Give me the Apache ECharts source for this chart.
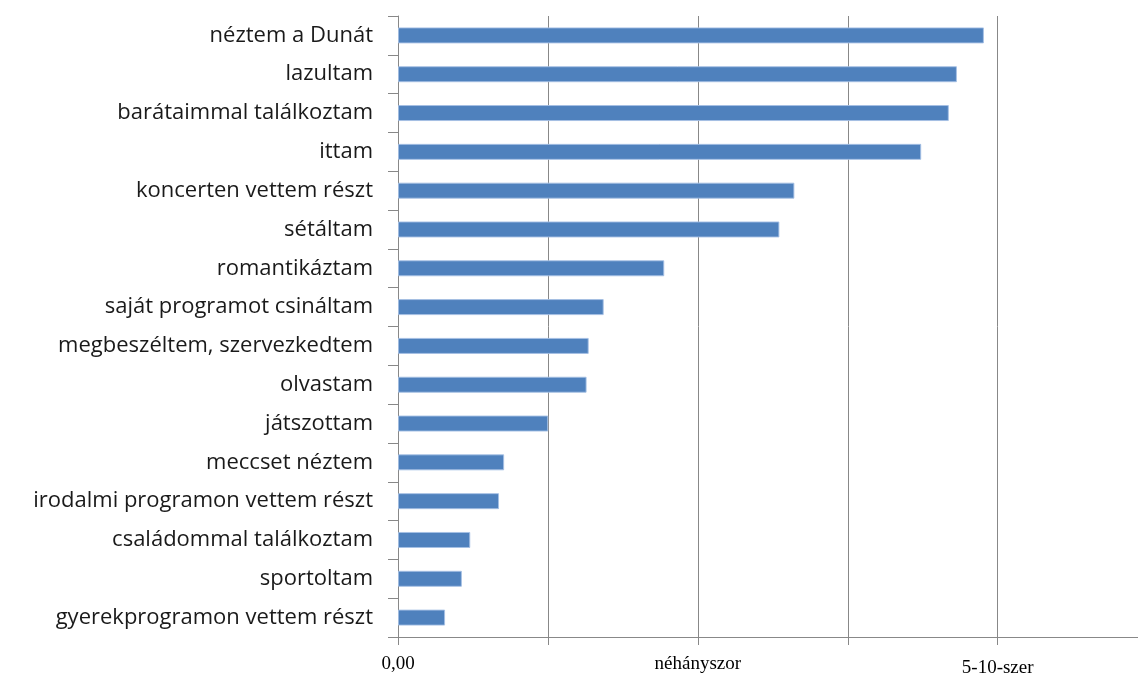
<!DOCTYPE html>
<html>
<head>
<meta charset="utf-8">
<script src="https://cdn.jsdelivr.net/npm/echarts@6/dist/echarts.min.js"></script>
<style>
  html, body { margin: 0; padding: 0; background: #fff; }
  #chart { width: 1138px; height: 677px; }
</style>
</head>
<body>
<div id="chart"></div>
<script>
// Activities, listed top to bottom
const categories = [
  'néztem a Dunát',
  'lazultam',
  'barátaimmal találkoztam',
  'ittam',
  'koncerten vettem részt',
  'sétáltam',
  'romantikáztam',
  'saját programot csináltam',
  'megbeszéltem, szervezkedtem',
  'olvastam',
  'játszottam',
  'meccset néztem',
  'irodalmi programon vettem részt',
  'családommal találkoztam',
  'sportoltam',
  'gyerekprogramon vettem részt'
];

// Average frequency score (0 = never, 1 = a few times, 2 = 5-10 times)
const values = [
  1.954, 1.864, 1.837, 1.745, 1.322, 1.272, 0.888, 0.686,
  0.636, 0.629, 0.501, 0.354, 0.337, 0.241, 0.213, 0.157
];

// Labels for the value axis, one per 0.5 step
const xTickLabels = ['0,00', '', 'néhányszor', '', '5-10-szer'];

const chart = echarts.init(document.getElementById('chart'), null, { renderer: 'canvas' });

const gray = '#888888';

chart.setOption({
  animation: false,
  grid: { left: 398, top: 16, bottom: 40, right: 0, containLabel: false, outerBoundsMode: 'none' },
  xAxis: {
    type: 'value',
    min: 0,
    max: 2.468,
    interval: 0.5,
    axisLine: { show: true, lineStyle: { color: gray, width: 1 } },
    axisTick: { show: true, length: 8, lineStyle: { color: gray } },
    splitLine: { show: true, showMaxLine: false, lineStyle: { color: gray, width: 1 } },
    axisLabel: {
      margin: 18,
      showMaxLabel: false,
      fontFamily: '"Liberation Serif", "DejaVu Serif", serif',
      fontSize: 19,
      color: '#000',
      formatter: function (v) {
        const i = Math.round(v / 0.5);
        const t = xTickLabels[i] || '';
        return i === 4 ? '{low|' + t + '}' : t;
      },
      rich: {
        low: {
          fontFamily: '"Liberation Serif", "DejaVu Serif", serif',
          fontSize: 19,
          color: '#000',
          padding: [4, 0, 0, 0]
        }
      }
    }
  },
  yAxis: {
    type: 'category',
    data: categories,
    inverse: true,
    axisLine: { show: true, lineStyle: { color: gray, width: 1 } },
    axisTick: { show: true, alignWithLabel: false, length: 10, lineStyle: { color: gray } },
    axisLabel: {
      margin: 25,
      fontFamily: '"Open Sans", "Noto Sans", sans-serif',
      fontSize: 22,
      color: '#1a1a1a'
    }
  },
  series: [{
    type: 'bar',
    data: values,
    barWidth: 16,
    itemStyle: {
      color: '#4F81BD',
      borderColor: 'rgba(165,192,228,0.9)',
      borderWidth: 1
    }
  }]
});
</script>
</body>
</html>
